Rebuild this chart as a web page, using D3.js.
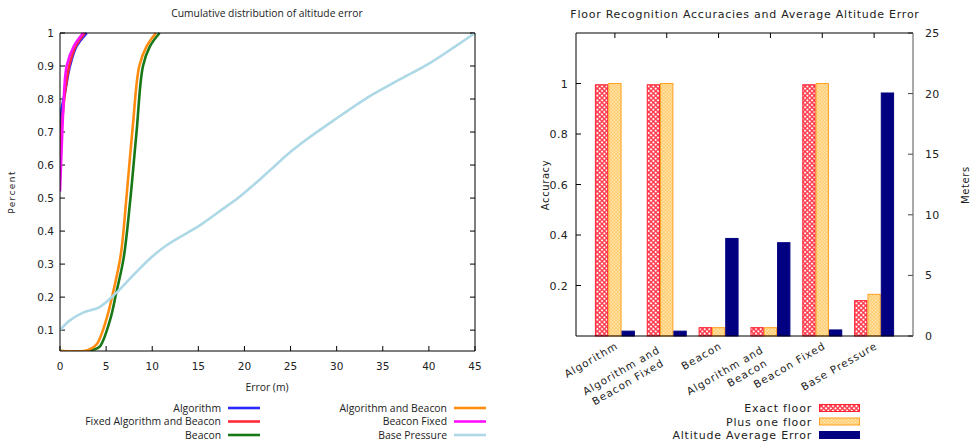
<!DOCTYPE html>
<html><head><meta charset="utf-8">
<script src="https://cdn.jsdelivr.net/npm/d3@7"></script>
<style>body{margin:0;background:#fff}svg{display:block}text{fill:#222}</style>
</head><body><svg id="c" width="976" height="446"></svg>
<script>
// ---------- Left chart data (CDF of altitude error) ----------
const cdfNames = ["Algorithm","Fixed Algorithm and Beacon","Beacon","Algorithm and Beacon","Beacon Fixed","Base Pressure"];
const cdfColors = ["#2a2aff","#ff2a3a","#187818","#ff8c10","#ff10ff","#add8e6"];
const algorithmCdf = [[0,0.70],[0.18,0.77],[0.54,0.82],[1.08,0.90],[1.8,0.96],[2.9,1.0]];
const fixedAlgBeaconCdf = [[0,0.60],[0.2,0.72],[0.5,0.81],[1.0,0.90],[1.7,0.96],[2.7,1.0]];
const beaconCdf = [[0,0.037],[3.0,0.037],[3.6,0.041],[4.3,0.05],[5.4,0.128],[6.1,0.213],[6.9,0.318],[7.6,0.489],[8.3,0.70],[9.0,0.90],[9.76,0.96],[10.8,1.0]];
const algBeaconCdf = [[0,0.037],[2.6,0.037],[3.3,0.043],[4.0,0.058],[5.0,0.13],[5.8,0.22],[6.6,0.33],[7.2,0.5],[7.9,0.72],[8.6,0.90],[9.4,0.96],[10.4,1.0]];
const beaconFixedCdf = [[0,0.52],[0.18,0.65],[0.36,0.77],[0.72,0.90],[1.5,0.96],[2.5,1.0]];
const basePressureCdf = [[0,0.1],[1,0.128],[2.5,0.153],[4.3,0.17],[6.1,0.213],[8.0,0.268],[9.8,0.318],[11.6,0.358],[15.2,0.418],[17.3,0.46],[19.3,0.5],[21,0.54],[23,0.59],[25,0.64],[26.8,0.679],[29.6,0.734],[33.6,0.809],[36.5,0.854],[40.1,0.909],[43,0.962],[45,1.0]];
const cdfSeries = [algorithmCdf, fixedAlgBeaconCdf, beaconCdf, algBeaconCdf, beaconFixedCdf, basePressureCdf];
const cdfXTicks = [0,5,10,15,20,25,30,35,40,45];
const cdfYTicks = [0.1,0.2,0.3,0.4,0.5,0.6,0.7,0.8,0.9,1];

// ---------- Right chart data ----------
const floorCategories = [["Algorithm"],["Algorithm and","Beacon Fixed"],["Beacon"],["Algorithm and","Beacon"],["Beacon Fixed"],["Base Pressure"]];
const exactFloor = [0.995,0.995,0.033,0.033,0.995,0.14];
const plusOneFloor = [1.0,1.0,0.033,0.033,1.0,0.165];
const altitudeAvgError = [0.4,0.4,8.05,7.7,0.5,20.05];
const accTicks = [0.2,0.4,0.6,0.8,1];
const meterTicks = [0,5,10,15,20,25];
const barLegend = ["Exact floor","Plus one floor","Altitude Average Error"];

const svg = d3.select("#c");
const F = "'DejaVu Sans', Verdana, sans-serif";
const O = "'Open Sans', sans-serif";

// ================= LEFT =================
{
  const L=60,R=475,T=33,B=351;
  const x = d3.scaleLinear().domain([0,45]).range([L,R]);
  const y = d3.scaleLinear().domain([0.0368,1]).range([B,T]);
  const g = svg.append("g");
  g.append("text").attr("x",267).attr("y",17).attr("text-anchor","middle")
    .style("font-family",O).style("font-size","10.3px").text("Cumulative distribution of altitude error");
  cdfYTicks.forEach(v=>{
    g.append("line").attr("x1",L).attr("x2",L+5).attr("y1",y(v)).attr("y2",y(v)).attr("stroke","#000");
    g.append("line").attr("x1",R-5).attr("x2",R).attr("y1",y(v)).attr("y2",y(v)).attr("stroke","#000");
    g.append("text").attr("x",54).attr("y",y(v)+3.8).attr("text-anchor","end")
      .style("font-family",F).style("font-size","10.5px").text(v===1?"1":v.toFixed(1));
  });
  cdfXTicks.forEach(v=>{
    g.append("line").attr("x1",x(v)).attr("x2",x(v)).attr("y1",B).attr("y2",B-5).attr("stroke","#000");
    g.append("text").attr("x",x(v)).attr("y",370).attr("text-anchor","middle")
      .style("font-family",F).style("font-size","10.5px").text(v);
  });
  const line = d3.line().x(d=>x(d[0])).y(d=>y(d[1])).curve(d3.curveCatmullRom.alpha(0.5));
  g.append("clipPath").attr("id","clipL").append("rect").attr("x",L).attr("y",T-2).attr("width",R-L+2).attr("height",B-T+2);
  cdfSeries.forEach((s,i)=>{
    g.append("path").attr("d",line(s)).attr("fill","none").attr("stroke",cdfColors[i])
      .attr("stroke-width",2.6).attr("clip-path","url(#clipL)");
  });
  g.append("path").attr("d",`M${L},${T}H${R}V${B}H${L}Z`).attr("fill","none").attr("stroke","#000");
  g.append("text").attr("transform","translate(15,192) rotate(-90)").attr("text-anchor","middle")
    .style("font-family",F).style("font-size","9px").style("letter-spacing","1.4px").text("Percent");
  g.append("text").attr("x",267).attr("y",391).attr("text-anchor","middle")
    .style("font-family",O).style("font-size","10.4px").text("Error (m)");
  cdfNames.forEach((n,i)=>{
    const col=Math.floor(i/3), row=i%3;
    const ex = col===0?221:447, yy=408+row*13.5;
    g.append("text").attr("x",ex).attr("y",yy+3.7).attr("text-anchor","end")
      .style("font-family",O).style("font-size","10.4px").text(n);
    g.append("line").attr("x1",ex+7).attr("x2",ex+39).attr("y1",yy).attr("y2",yy)
      .attr("stroke",cdfColors[i]).attr("stroke-width",2.6);
  });
}

// ================= RIGHT =================
{
  const L=576,R=913,T=33,B=336;
  const x = d3.scaleLinear().domain([-0.75,5.75]).range([L,R]);
  const yA = d3.scaleLinear().domain([0,1.2]).range([B,T]);
  const yM = d3.scaleLinear().domain([0,25]).range([B,T]);
  const bw = 0.257;
  const defs = svg.append("defs");
  const p1 = defs.append("pattern").attr("id","pRed").attr("patternUnits","userSpaceOnUse")
    .attr("width",3.3).attr("height",3.3).attr("patternTransform","rotate(45)");
  p1.append("rect").attr("width",3.3).attr("height",3.3).attr("fill","#ff3a4c");
  p1.append("circle").attr("cx",1.65).attr("cy",1.65).attr("r",1.1).attr("fill","#fff");
  const p2 = defs.append("pattern").attr("id","pOr").attr("patternUnits","userSpaceOnUse")
    .attr("width",2.4).attr("height",2.4).attr("patternTransform","rotate(45)");
  p2.append("rect").attr("width",2.4).attr("height",2.4).attr("fill","#ffc860");
  p2.append("rect").attr("x",0.5).attr("y",0.5).attr("width",1.4).attr("height",1.4).attr("fill","#fff4dc");
  const fills = ["url(#pRed)","url(#pOr)","#000080"];
  const strokes = ["#ff2030","#ffa020","#000080"];
  const g = svg.append("g");
  g.append("text").attr("x",745).attr("y",18).attr("text-anchor","middle")
    .style("font-family",F).style("font-size","11px").style("letter-spacing","0.75px")
    .text("Floor Recognition Accuracies and Average Altitude Error");
  const series = [exactFloor, plusOneFloor, altitudeAvgError];
  series.forEach((s,k)=>{
    s.forEach((v,i)=>{
      const sc = k===2?yM:yA;
      const x0 = x(i+(k-1)*bw-bw/2), x1 = x(i+(k-1)*bw+bw/2);
      g.append("rect").attr("x",x0+0.5).attr("y",sc(v)).attr("width",x1-x0-1).attr("height",B-sc(v))
        .attr("fill",fills[k]).attr("stroke",strokes[k]).attr("stroke-width",1);
    });
  });
  accTicks.forEach(v=>{
    g.append("line").attr("x1",L).attr("x2",L+5).attr("y1",yA(v)).attr("y2",yA(v)).attr("stroke","#000");
    g.append("text").attr("x",568).attr("y",yA(v)+4).attr("text-anchor","end")
      .style("font-family",F).style("font-size","11px").style("letter-spacing","0.3px").text(v===1?"1":v.toFixed(1));
  });
  meterTicks.forEach(v=>{
    g.append("line").attr("x1",R-5).attr("x2",R).attr("y1",yM(v)).attr("y2",yM(v)).attr("stroke","#444");
    g.append("text").attr("x",925).attr("y",yM(v)+4).attr("text-anchor","start")
      .style("font-family",F).style("font-size","11px").style("letter-spacing","0.3px").text(v);
  });
  floorCategories.forEach((lab,i)=>{
    const cx = x(i);
    g.append("line").attr("x1",cx).attr("x2",cx).attr("y1",T).attr("y2",T+5).attr("stroke","#000");
    const sty = t=>t.style("font-family",F).style("font-size","10.4px").style("letter-spacing","1px").attr("text-anchor","end");
    if(lab.length===1){
      sty(g.append("text").attr("transform",`translate(${cx+4},348) rotate(-30)`).text(lab[0]));
    } else {
      sty(g.append("text").attr("transform",`translate(${cx-6},352) rotate(-30)`).text(lab[0]));
      sty(g.append("text").attr("transform",`translate(${cx-2},365) rotate(-30)`).text(lab[1]));
    }
  });
  g.append("path").attr("d",`M${R},${T}H${L}V${B}H${R}`).attr("fill","none").attr("stroke","#000");
  g.append("line").attr("x1",R).attr("x2",R).attr("y1",T).attr("y2",B).attr("stroke","#555");
  g.append("text").attr("transform","translate(549,185) rotate(-90)").attr("text-anchor","middle")
    .style("font-family",F).style("font-size","10px").style("letter-spacing","0.6px").text("Accuracy");
  g.append("text").attr("transform","translate(969,185) rotate(-90)").attr("text-anchor","middle")
    .style("font-family",F).style("font-size","10px").style("letter-spacing","0.6px").text("Meters");
  barLegend.forEach((n,k)=>{
    const yy = 408+k*13.5;
    g.append("text").attr("x",812).attr("y",yy+4).attr("text-anchor","end")
      .style("font-family",F).style("font-size","11px").style("letter-spacing","0.8px").text(n);
    g.append("rect").attr("x",819.5).attr("y",yy-3.5).attr("width",40).attr("height",7)
      .attr("fill",fills[k]).attr("stroke",strokes[k]);
  });
}
</script></body></html>
